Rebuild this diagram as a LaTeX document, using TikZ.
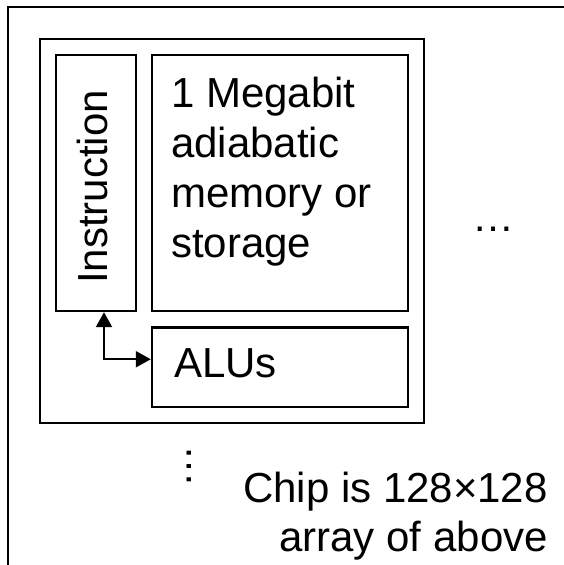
\documentclass[tikz,border=0pt]{standalone}
\usepackage{fontspec}
\setmainfont{Liberation Sans}
\usetikzlibrary{arrows.meta}
\begin{document}
\begin{tikzpicture}[x=1pt,y=-1pt,
  box/.style={draw, line width=2.4pt, rectangle, inner sep=0pt, anchor=north west},
  lbl/.style={inner sep=0pt, font=\fontsize{42}{50}\selectfont},
  arr/.style={line width=2pt, {Triangle[length=15pt,width=16pt]}-{Triangle[length=15pt,width=16pt]}}]
\useasboundingbox (0,0) rectangle (564,565);
\clip (0,0) rectangle (564,565);
% outer frame (only left and top edges visible)
\coordinate (fbl) at (8,600);
\coordinate (ftl) at (8,7);
\coordinate (ftr) at (600,7);
\draw[line width=2.4pt] (fbl) -- (ftl) -- (ftr);
% boxes
\node[box, minimum width=384pt, minimum height=384pt] (chip) at (38.8,37.8) {};
\node[box, minimum width=80pt, minimum height=256pt] (instr) at (54.8,53.8) {};
\node[box, minimum width=256pt, minimum height=256pt] (mem) at (150.8,53.8) {};
\node[box, minimum width=256pt, minimum height=79.5pt] (alu) at (150.8,326.3) {};
% connector
\draw[arr] ([xshift=8pt]instr.south) |- ([yshift=8pt]alu.west);
% texts
\node[lbl, anchor=north west, align=left] (memtxt) at (171,77) {1 Megabit\\adiabatic\\memory or\\storage};
\node[lbl, rotate=90, anchor=base] (instrtxt) at (107.5,187) {Instruction};
\node[lbl, anchor=base west] (alutxt) at (174,377) {ALUs};
\node[lbl, anchor=base] (hdots) at (493,231) {…};
\node[lbl, rotate=90, anchor=base] (vdots) at (191,466) {…};
\node[lbl, anchor=north east, align=right, font=\fontsize{42}{49}\selectfont] (note) at (548,472) {Chip is 128×128\\array of above};
\end{tikzpicture}
\end{document}
